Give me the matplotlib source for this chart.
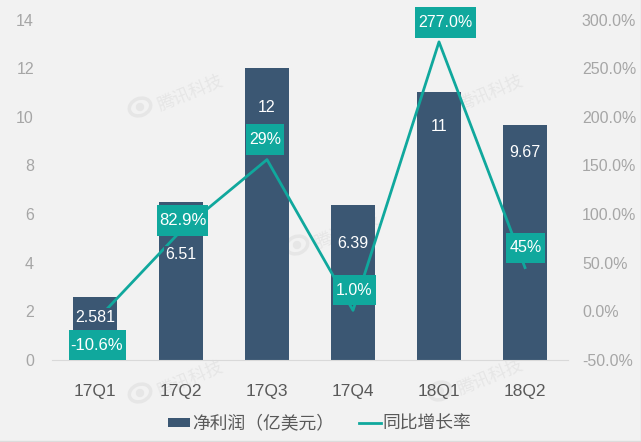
import matplotlib
matplotlib.use("Agg")
import matplotlib.pyplot as plt
from matplotlib.patches import Rectangle, Ellipse
from matplotlib.transforms import IdentityTransform

quarters = ["17Q1", "17Q2", "17Q3", "17Q4", "18Q1", "18Q2"]
profit = [2.581, 6.51, 12, 6.39, 11, 9.67]
profit_labels = ["2.581", "6.51", "12", "6.39", "11", "9.67"]
growth = [-10.6, 82.9, 156, 1.0, 277, 45]
growth_labels = ["-10.6%", "82.9%", "29%", "1.0%", "277.0%", "45%"]

W, H = 641, 442
BG = "#f2f2f2"
NAVY = "#3b5773"
TEAL = "#10a89d"

plt.rcParams["font.family"] = ["Liberation Sans", "Noto Sans CJK SC", "DejaVu Sans"]

fig = plt.figure(figsize=(W / 100, H / 100), dpi=100, facecolor=BG)
ax = fig.add_axes([52 / W, (H - 360) / H, 516 / W, 340.5 / H])
ax.patch.set_visible(False)

# watermarks, pixel positions of the text centre
for cx, cy in [(190, 92), (190, 378), (347, 230), (490, 92), (490, 376)]:
    fig.text(cx / W, 1 - cy / H, "腾讯科技", fontsize=12.5, color="#e6e6e6",
             rotation=22, ha="center", va="center", zorder=-5)
    fig.add_artist(Ellipse((cx - 50, H - cy - 15), 22, 17, angle=22, fill=False,
                           ec="#e6e6e6", lw=2.5, transform=IdentityTransform(), zorder=-5))
    fig.add_artist(Ellipse((cx - 50, H - cy - 15), 7, 7, color="#e6e6e6",
                           transform=IdentityTransform(), zorder=-5))

bars = ax.bar(range(6), profit, width=0.515, color=NAVY, zorder=2)
ax.set_xlim(-0.5, 5.5)
ax.set_ylim(0, 14)
ax.set_xticks(range(6), quarters)
ax.set_yticks(range(0, 15, 2))
ax.tick_params(axis="x", length=0, pad=17.5, labelsize=12.5, labelcolor="#595959")
ax.tick_params(axis="y", length=0, pad=13, labelsize=11.5, labelcolor="#a6a6a6")
for s in ["top", "left", "right"]:
    ax.spines[s].set_visible(False)
ax.spines["bottom"].set_color("#d9d9d9")

ax2 = ax.twinx()
ax2.set_ylim(-50, 300)
ax2.set_yticks(range(-50, 301, 50), [f"{v:.1f}%" for v in range(-50, 301, 50)])
ax2.tick_params(axis="y", length=0, pad=10, labelsize=11.5, labelcolor="#a6a6a6")
for s in ax2.spines.values():
    s.set_visible(False)
line, = ax2.plot(range(6), growth, color=TEAL, lw=2, zorder=3)

# bar value labels, px below the bar top; navy box hides the line behind the number
bar_drop = [20, 53, 39, 39, 34, 27.5]
for i, v in enumerate(profit):
    ax2.annotate(profit_labels[i], xy=(i, v), xycoords=ax.transData,
                 xytext=(0, -bar_drop[i] * 0.72), textcoords="offset points",
                 ha="center", va="center", color="white", fontsize=11.5, zorder=3.5,
                 annotation_clip=False,
                 bbox=dict(boxstyle="square,pad=0.1", fc=NAVY, ec="none"))

# teal callouts: centre offset from the point (px), box size (px), font size
box_off = [(2, -23.5), (1.5, 10), (-2, 20), (1.5, 20), (6.5, 19.5), (0.5, 19.7)]
box_size = [(57, 30), (51, 31), (38.5, 31.5), (43, 30), (61, 31.5), (39, 30.5)]
box_font = [12, 12, 11.5, 11.5, 11.5, 11.5]
for i, g in enumerate(growth):
    px, py = ax2.transData.transform((i, g))
    cx, cy = px + box_off[i][0], py + box_off[i][1]
    w, h = box_size[i]
    ax2.add_patch(Rectangle((cx - w / 2, cy - h / 2), w, h, color=TEAL, lw=0,
                            transform=IdentityTransform(), zorder=4, clip_on=False))
    ax2.text(cx, cy, growth_labels[i], color="white", fontsize=box_font[i], ha="center",
             va="center", transform=IdentityTransform(), zorder=5)

ax2.legend([bars, line], ["净利润（亿美元）", "同比增长率"], ncol=2, frameon=False,
           loc="center", bbox_to_anchor=(320 / W, 1 - 424 / H), bbox_transform=fig.transFigure,
           fontsize=12.8, labelcolor="#595959", handlelength=1.24, handleheight=0.4,
           handletextpad=0.1, columnspacing=1.4)

# thin frame at the right and bottom edge
fig.add_artist(plt.Line2D([640.5, 640.5], [0, H], color="#dcdcdc", lw=1, transform=IdentityTransform()))
fig.add_artist(plt.Line2D([0, W], [1.5, 1.5], color="#dcdcdc", lw=1, transform=IdentityTransform()))

fig.savefig("out.png", dpi=100, facecolor=BG)
